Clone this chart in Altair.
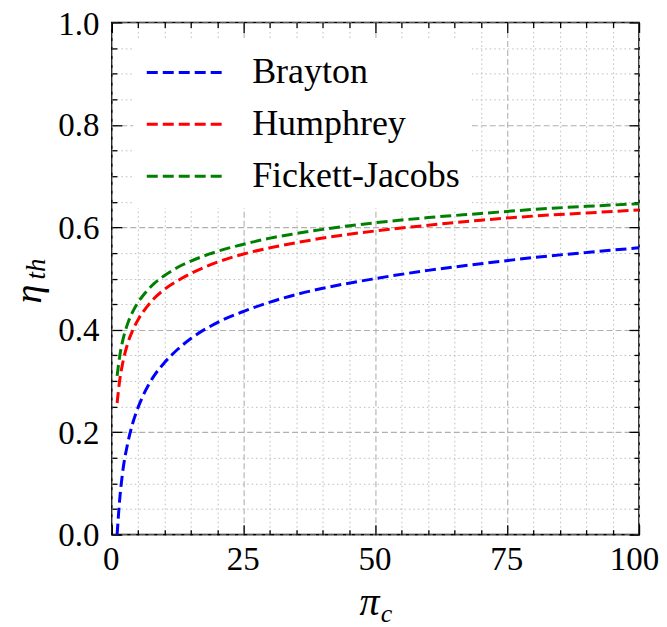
import altair as alt
import pandas as pd

# ---- data ----
series = ["Brayton", "Humphrey", "Fickett-Jacobs"]
colors = ["#0000ff", "#ff0000", "#008000"]
pi_c = [1, 1.5, 2, 3, 4, 5, 6, 8, 10, 12.5, 15, 20, 25, 30, 35, 40, 50, 60, 70, 80, 90, 100]
brayton = [0.000, 0.070, 0.118, 0.178, 0.219, 0.249, 0.273, 0.310, 0.336, 0.362, 0.383,
           0.414, 0.436, 0.454, 0.469, 0.481, 0.500, 0.516, 0.529, 0.541, 0.551, 0.560]
humphrey = [0.257, 0.302, 0.332, 0.373, 0.400, 0.420, 0.436, 0.461, 0.479, 0.496, 0.510,
            0.532, 0.548, 0.560, 0.570, 0.579, 0.593, 0.604, 0.614, 0.622, 0.628, 0.634]
fickett = [0.310, 0.349, 0.376, 0.412, 0.436, 0.454, 0.468, 0.490, 0.506, 0.522, 0.534,
           0.553, 0.567, 0.579, 0.588, 0.596, 0.609, 0.619, 0.627, 0.635, 0.641, 0.646]

x_major = [0, 25, 50, 75, 100]
x_minor = [5, 10, 15, 20, 30, 35, 40, 45, 55, 60, 65, 70, 80, 85, 90, 95]
y_major = [0.0, 0.2, 0.4, 0.6, 0.8, 1.0]
y_minor = [0.05, 0.1, 0.15, 0.25, 0.3, 0.35, 0.45, 0.5, 0.55, 0.65, 0.7, 0.75, 0.85, 0.9, 0.95]

x_title = ["π", "c"]
y_title = ["η", "th"]

rows = []
for name, vals in zip(series, [brayton, humphrey, fickett]):
    for p, v in zip(pi_c, vals):
        rows.append({"pi": p, "eta": v, "cycle": name})
df = pd.DataFrame(rows)

FONT = "Liberation Serif"
xs = alt.Scale(domain=[0, 100], nice=False, zero=False)
ys = alt.Scale(domain=[0, 1], nice=False, zero=False)

MAJ, MIN = 10, 5


def make_axis(orient, values, tick, labels=False, grid=False, major=True, fmt=None):
    kw = dict(orient=orient, values=values, tickSize=tick, offset=-tick,
              tickColor="black", tickWidth=1.3, domain=False, labels=labels,
              grid=grid, title=None, zindex=0, ticks=True)
    if grid:
        if major:
            kw.update(gridDash=[6, 3], gridColor="#b0b0b0", gridWidth=1.1)
        else:
            kw.update(gridDash=[1.5, 3], gridColor="#bdbdbd", gridWidth=1.0)
    if labels:
        kw.update(labelFont=FONT, labelFontSize=33, labelColor="black",
                  labelFlush=False, labelOverlap=False, labelBound=False, format=fmt)
        if orient == "bottom":
            kw.update(labelPadding=9,
                      labelOffset={"condition": {"test": "datum.value === 100", "value": -5},
                                   "value": -1})
        else:
            kw.update(labelPadding=13,
                      labelOffset={"condition": {"test": "datum.value === 1", "value": 2.5},
                                   "value": 1})
    return alt.Axis(**kw)


def ghost(xaxis, yaxis):
    return alt.Chart(df).mark_point(opacity=0).encode(
        x=alt.X("pi:Q", scale=xs, axis=xaxis),
        y=alt.Y("eta:Q", scale=ys, axis=yaxis),
    )


minor_bl = ghost(make_axis("bottom", x_minor, MIN, grid=True, major=False),
                 make_axis("left", y_minor, MIN, grid=True, major=False))
minor_tr = ghost(make_axis("top", x_minor, MIN), make_axis("right", y_minor, MIN))
major_tr = ghost(make_axis("top", x_major, MAJ), make_axis("right", y_major, MAJ))

lines = alt.Chart(df).mark_line(strokeDash=[11, 5], strokeWidth=3, interpolate="monotone").encode(
    x=alt.X("pi:Q", scale=xs,
            axis=make_axis("bottom", x_major, MAJ, labels=True, grid=True, fmt="d")),
    y=alt.Y("eta:Q", scale=ys,
            axis=make_axis("left", y_major, MAJ, labels=True, grid=True, fmt=".1f")),
    color=alt.Color("cycle:N", sort=series,
                    scale=alt.Scale(domain=series, range=colors),
                    legend=alt.Legend(title=None, orient="none", legendX=21.5, legendY=18,
                                      symbolType="stroke", symbolSize=5776,
                                      symbolStrokeWidth=3, symbolDash=[11, 5],
                                      labelFont=FONT, labelFontSize=36, labelColor="black",
                                      labelOffset=28, labelLimit=400, clipHeight=40,
                                      rowPadding=12, padding=12, fillColor="white")),
)

eta = alt.Chart(pd.DataFrame({"t": [y_title[0]]})).mark_text(
    font=FONT, fontSize=38, fontStyle="italic", angle=270, align="center", baseline="middle",
    color="black").encode(x=alt.value(-82), y=alt.value(272), text="t:N")
eta_sub = alt.Chart(pd.DataFrame({"t": [y_title[1]]})).mark_text(
    font=FONT, fontSize=27, fontStyle="italic", angle=270, align="center", baseline="middle",
    color="black").encode(x=alt.value(-75), y=alt.value(247), text="t:N")
pi_t = alt.Chart(pd.DataFrame({"t": [x_title[0]]})).mark_text(
    font=FONT, fontSize=40, fontStyle="italic", align="center", baseline="middle",
    color="black").encode(x=alt.value(258), y=alt.value(581), text="t:N")
pi_sub = alt.Chart(pd.DataFrame({"t": [x_title[1]]})).mark_text(
    font=FONT, fontSize=26, fontStyle="italic", align="center", baseline="middle",
    color="black").encode(x=alt.value(275), y=alt.value(592), text="t:N")

chart = alt.layer(minor_bl, minor_tr, major_tr, lines, eta, eta_sub, pi_t, pi_sub).resolve_axis(
    x="independent", y="independent"
).properties(
    width=528, height=513,
    autosize=alt.AutoSizeParams(type="none"),
    padding={"left": 104, "top": 14, "right": 20, "bottom": 95},
    background="white",
).configure_view(stroke="black", strokeWidth=1.6)

chart.save("out.html", embed_options={"renderer": "svg", "actions": False})
